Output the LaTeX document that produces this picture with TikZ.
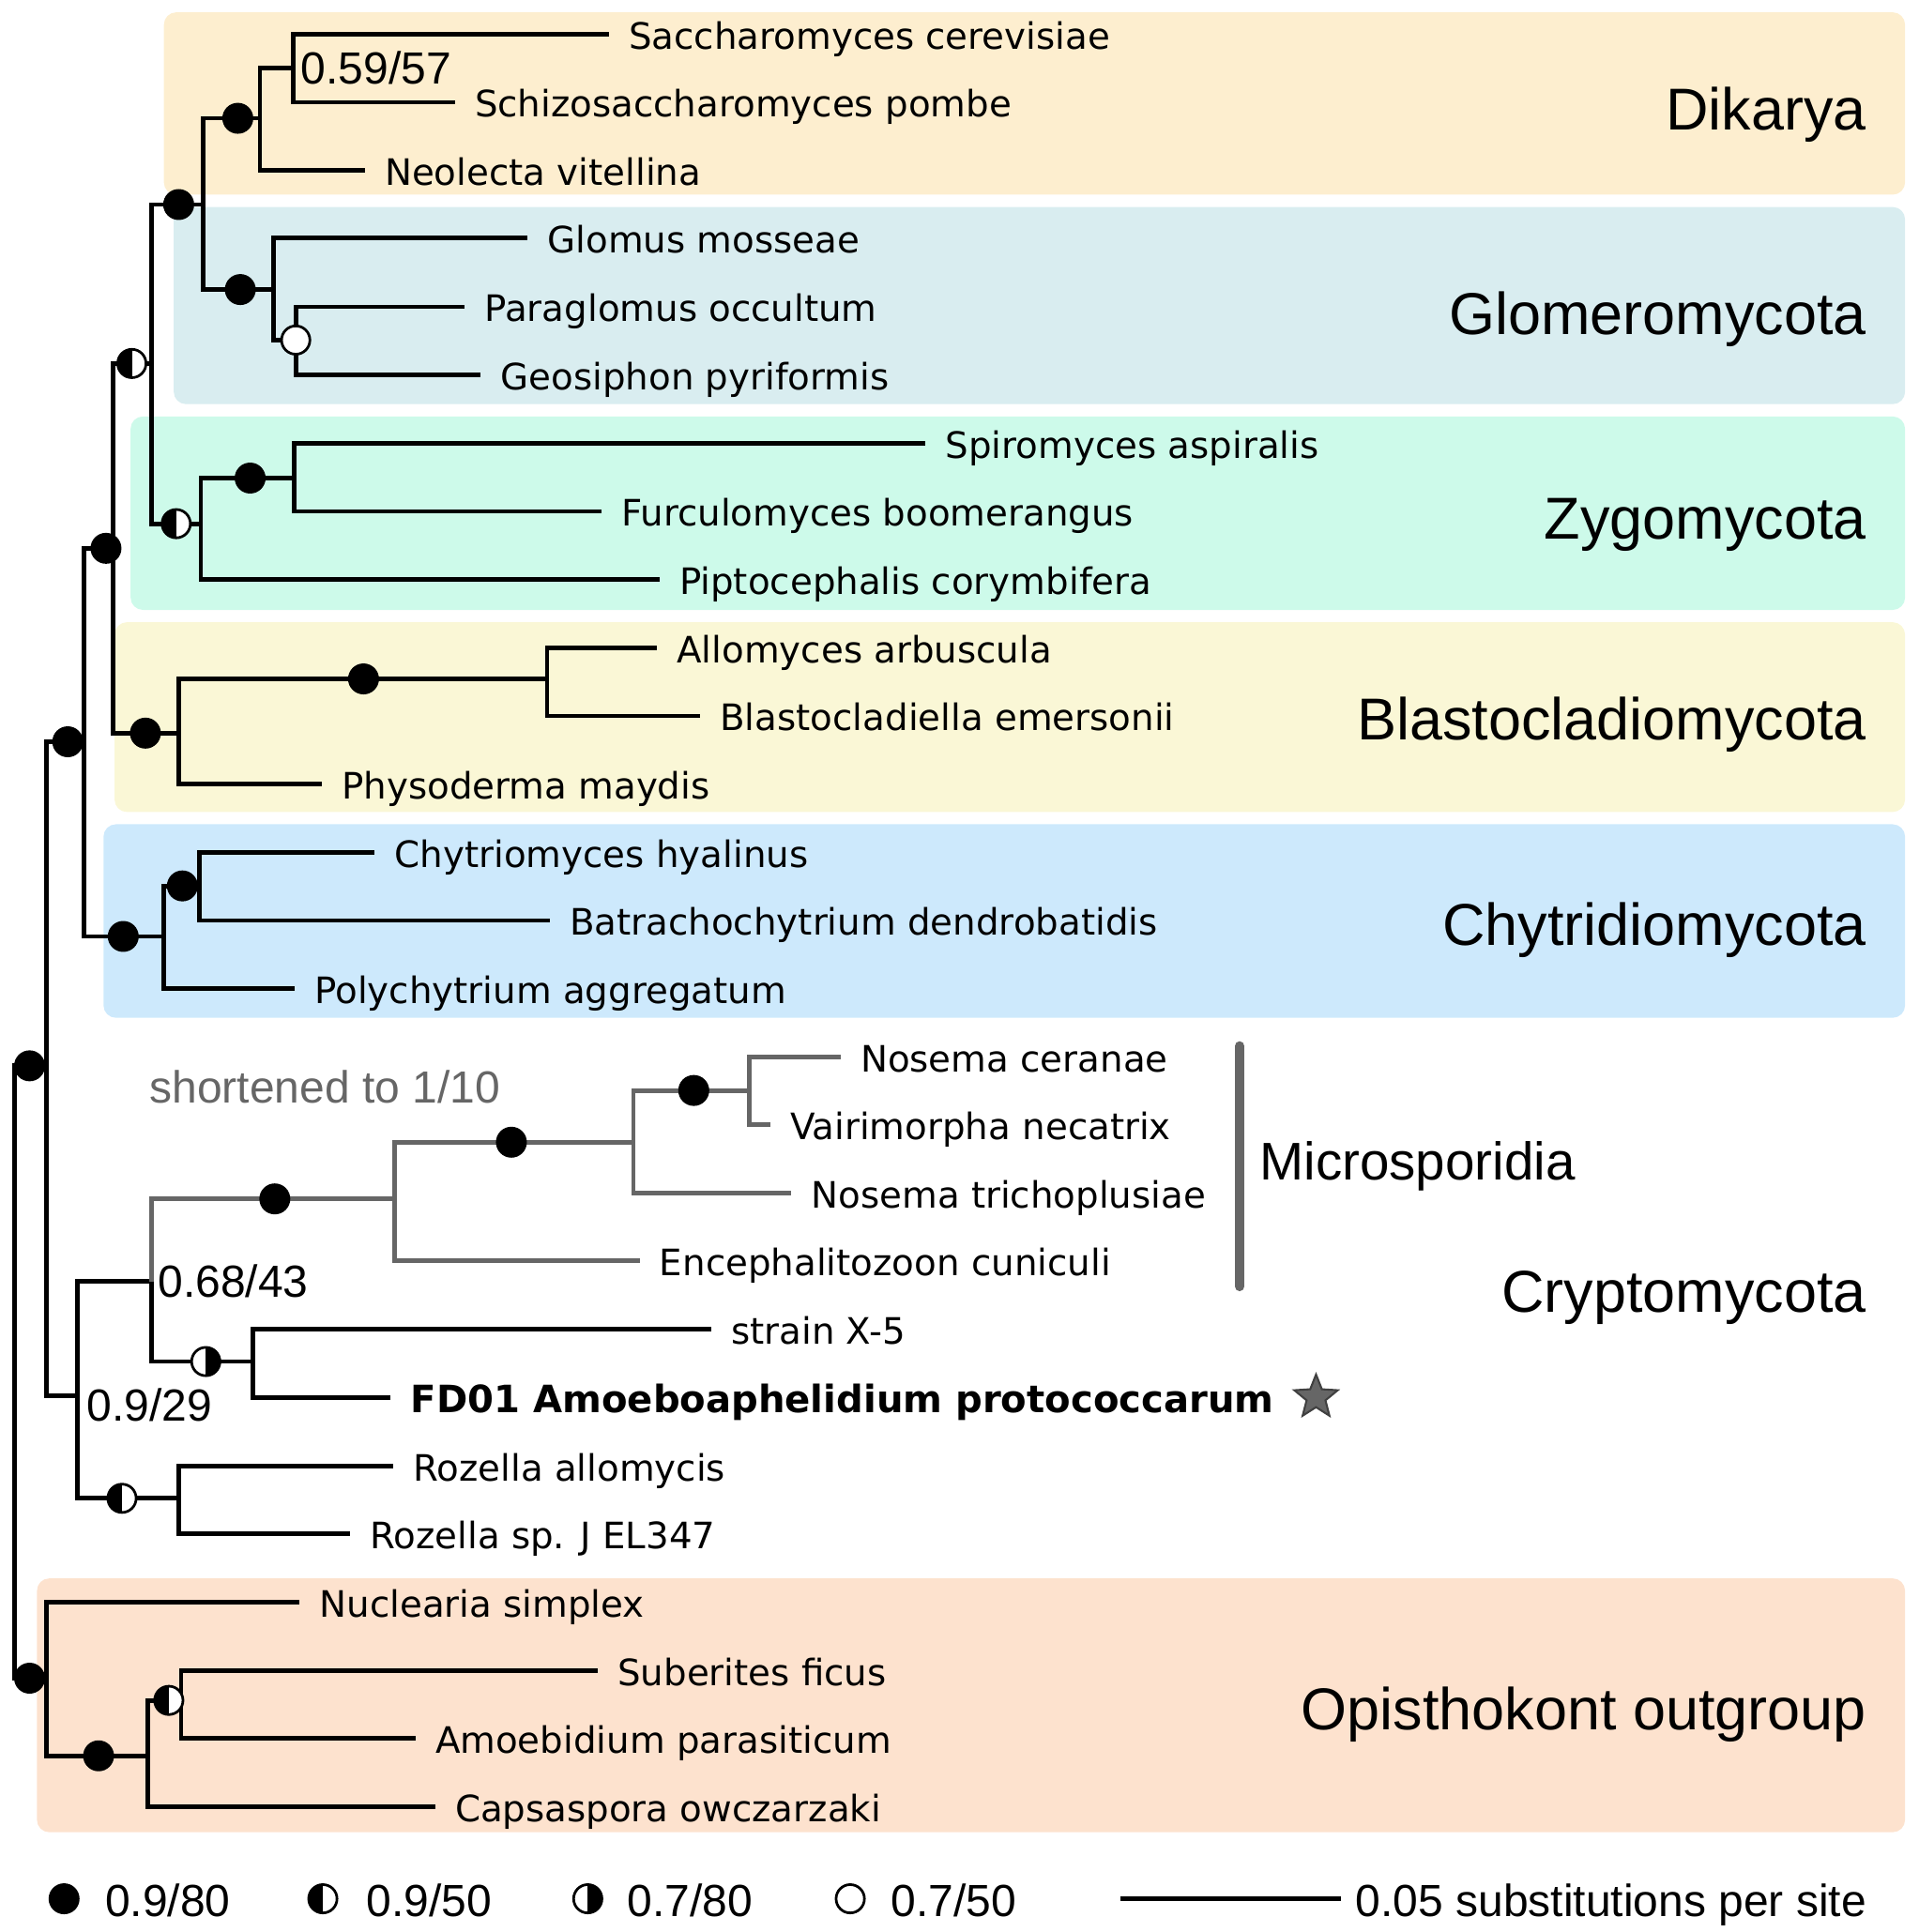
\documentclass[tikz,border=0pt]{standalone}
\usepackage{fontspec}
\setmainfont{Liberation Sans}
\newfontfamily\spfont{DejaVu Sans}
\usepackage{tikz}
\usetikzlibrary{shapes.geometric,positioning}
\definecolor{dikcol}{RGB}{253,238,207}
\definecolor{glocol}{RGB}{217,237,240}
\definecolor{zygcol}{RGB}{205,250,234}
\definecolor{blacol}{RGB}{250,247,214}
\definecolor{chycol}{RGB}{205,233,252}
\definecolor{opicol}{RGB}{253,226,206}
\definecolor{shortgray}{RGB}{102,102,102}

\begin{document}
\begin{tikzpicture}[x=0.02cm, y=-0.02cm,
    br/.style={line width=2.1pt},
    grbr/.style={line width=2.1pt, draw=shortgray},
    tip/.style={anchor=west, inner xsep=0.32cm, inner ysep=0pt, text height=13.8pt, text depth=0pt, font=\spfont\fontsize{16.8}{18}\selectfont},
    supfull/.style={circle, fill=black, draw=black, line width=1.2pt, minimum size=0.46cm, inner sep=0pt},
    supopen/.style={supfull, fill=white},
    suphalfl/.style={supopen, path picture={\fill[black] (path picture bounding box.south west) rectangle (path picture bounding box.north);}},
    suphalfr/.style={supopen, path picture={\fill[black] (path picture bounding box.south) rectangle (path picture bounding box.north east);}},
    num/.style={anchor=west, inner sep=0pt, text height=14.9pt, text depth=0pt, font=\fontsize{20.8}{24}\selectfont},
    clade/.style={anchor=east, inner sep=0pt, text height=19.5pt, text depth=0pt, font=\fontsize{27.3}{32}\selectfont},
    cladebox/.style={rounded corners=0.2cm}
]
\useasboundingbox (0,0) rectangle (1557,1568);

\fill[dikcol, cladebox] (133,10) rectangle (1546,158);
\fill[glocol, cladebox] (141,168) rectangle (1546,328);
\fill[zygcol, cladebox] (106,338) rectangle (1546,495);
\fill[blacol, cladebox] (93,505) rectangle (1546,659);
\fill[chycol, cladebox] (84,669) rectangle (1546,826);
\fill[opicol, cladebox] (30,1281) rectangle (1546,1487);

\coordinate (root) at (12,1113);
\coordinate (fc) at (38,865);
\coordinate (fu) at (68,602);
\coordinate (f2) at (92,445);
\coordinate (f3) at (123,295);
\coordinate (f4) at (165,166);
\coordinate (dik) at (211,96);
\coordinate (sac) at (238,55);
\coordinate (glo) at (222,235);
\coordinate (par) at (240,276);
\coordinate (zyg) at (163,425);
\coordinate (spi) at (239,388);
\coordinate (bla) at (145,595);
\coordinate (all) at (444,551);
\coordinate (chy) at (133,760);
\coordinate (chy2) at (162,719);
\coordinate (cry) at (63,1133);
\coordinate (cr2) at (123,1040);
\coordinate (mic) at (320,973);
\coordinate (mic2) at (514,927);
\coordinate (mic3) at (608,885);
\coordinate (amo) at (205,1105);
\coordinate (roz) at (145,1216);
\coordinate (opi) at (38,1362);
\coordinate (opi2) at (120,1425);
\coordinate (opi3) at (147,1380);

\node[tip] (sce) at (494,28) {Saccharomyces cerevisiae};
\node[tip] (spo) at (369,83) {Schizosaccharomyces pombe};
\node[tip] (nvi) at (296,138) {Neolecta vitellina};
\node[tip] (gmo) at (428,193) {Glomus mosseae};
\node[tip] (poc) at (377,249) {Paraglomus occultum};
\node[tip] (gpy) at (390,304) {Geosiphon pyriformis};
\node[tip] (sas) at (751,360) {Spiromyces aspiralis};
\node[tip] (fbo) at (488,415) {Furculomyces boomerangus};
\node[tip] (pco) at (535,470) {Piptocephalis corymbifera};
\node[tip] (aar) at (533,526) {Allomyces arbuscula};
\node[tip] (bem) at (568,581) {Blastocladiella emersonii};
\node[tip] (pma) at (261,636) {Physoderma maydis};
\node[tip] (chh) at (304,692) {Chytriomyces hyalinus};
\node[tip] (bde) at (446,747) {Batrachochytrium dendrobatidis};
\node[tip] (pag) at (239,802) {Polychytrium aggregatum};
\node[tip] (nce) at (682,858) {Nosema ceranae};
\node[tip] (vne) at (625,913) {Vairimorpha necatrix};
\node[tip] (ntr) at (642,968) {Nosema trichoplusiae};
\node[tip] (ecu) at (519,1023) {Encephalitozoon cuniculi};
\node[tip] (sx5) at (577,1079) {strain X-5};
\node[tip, font=\spfont\bfseries\fontsize{17.4}{19}\selectfont] (fd01) at (317,1134) {FD01 Amoeboaphelidium protococcarum};
\node[tip] (ral) at (319,1190) {Rozella allomycis};
\node[tip] (rsp) at (284,1245) {Rozella sp. J EL347};
\node[tip] (nsi) at (243,1300) {Nuclearia simplex};
\node[tip] (sfi) at (485,1356) {Suberites ficus};
\node[tip] (apa) at (337,1411) {Amoebidium parasiticum};
\node[tip] (cow) at (353,1466) {Capsaspora owczarzaki};

\draw[br] (root) |- (fc);
\draw[br] (root) |- (opi);
\draw[br] (fc) |- (fu);
\draw[br] (fc) |- (cry);
\draw[br] (fu) |- (f2);
\draw[br] (fu) |- (chy);
\draw[br] (f2) |- (f3);
\draw[br] (f2) |- (bla);
\draw[br] (f3) |- (f4);
\draw[br] (f3) |- (zyg);
\draw[br] (f4) |- (dik);
\draw[br] (f4) |- (glo);
\draw[br] (dik) |- (sac);
\draw[br] (dik) |- (nvi.west);
\draw[br] (sac) |- (sce.west);
\draw[br] (sac) |- (spo.west);
\draw[br] (glo) |- (gmo.west);
\draw[br] (glo) |- (par);
\draw[br] (par) |- (poc.west);
\draw[br] (par) |- (gpy.west);
\draw[br] (zyg) |- (spi);
\draw[br] (zyg) |- (pco.west);
\draw[br] (spi) |- (sas.west);
\draw[br] (spi) |- (fbo.west);
\draw[br] (bla) |- (all);
\draw[br] (bla) |- (pma.west);
\draw[br] (all) |- (aar.west);
\draw[br] (all) |- (bem.west);
\draw[br] (chy) |- (chy2);
\draw[br] (chy) |- (pag.west);
\draw[br] (chy2) |- (chh.west);
\draw[br] (chy2) |- (bde.west);
\draw[br] (cry) |- (cr2);
\draw[br] (cry) |- (roz);
\draw[grbr] (cr2) |- (mic);
\draw[br] (cr2) |- (amo);
\draw[grbr] (mic) |- (mic2);
\draw[grbr] (mic) |- (ecu.west);
\draw[grbr] (mic2) |- (mic3);
\draw[grbr] (mic2) |- (ntr.west);
\draw[grbr] (mic3) |- (nce.west);
\draw[grbr] (mic3) |- (vne.west);
\draw[br] (amo) |- (sx5.west);
\draw[br] (amo) |- (fd01.west);
\draw[br] (roz) |- (ral.west);
\draw[br] (roz) |- (rsp.west);
\draw[br] (opi) |- (nsi.west);
\draw[br] (opi) |- (opi2);
\draw[br] (opi2) |- (opi3);
\draw[br] (opi2) |- (cow.west);
\draw[br] (opi3) |- (sfi.west);
\draw[br] (opi3) |- (apa.west);

\node[supfull] (s1) at (24,865) {};
\node[supfull] (s2) at (55,602) {};
\node[supfull] (s3) at (86,445) {};
\node[supfull] (s4) at (100,760) {};
\node[suphalfl] (s5) at (107,295) {};
\node[supfull] (s6) at (118,595) {};
\node[supfull] (s7) at (145,166) {};
\node[suphalfl] (s8) at (143,425) {};
\node[supfull] (s9) at (193,96) {};
\node[supfull] (s10) at (195,235) {};
\node[supopen] (s11) at (par) {};
\node[supfull] (s12) at (203,388) {};
\node[supfull] (s13) at (295,551) {};
\node[supfull] (s14) at (148,719) {};
\node[supfull] (s15) at (223,973) {};
\node[supfull] (s16) at (415,927) {};
\node[supfull] (s17) at (563,885) {};
\node[suphalfr] (s18) at (167,1105) {};
\node[suphalfl] (s19) at (99,1216) {};
\node[supfull] (s20) at (24,1362) {};
\node[supfull] (s21) at (80,1425) {};
\node[suphalfl] (s22) at (137,1380) {};

\node[num, right=0.12cm of sac] (bs1) {0.59/57};
\node[num, right=0.1cm of cr2] (bs2) {0.68/43};
\node[num] (bs3) at (70,1140) {0.9/29};
\node[num, text=shortgray] (shortl) at (121,882) {shortened to 1/10};

\node[star, star points=5, star point ratio=2.3, minimum size=0.74cm, inner sep=0pt, fill=shortgray, draw=black!75, line width=0.9pt] (fdstar) at (1068,1134) {};

\coordinate (mbar1) at (1006,849);
\coordinate (mbar2) at (1006,1044);
\draw[shortgray, line width=4.5pt, line cap=round] (mbar1) -- (mbar2);
\node[clade, anchor=west, text height=17.5pt, font=\fontsize{24.5}{28}\selectfont] (micl) at (1022,942) {Microsporidia};

\node[clade] (dikl) at (1515,88) {Dikarya};
\node[clade] (glol) at (1515,254) {Glomeromycota};
\node[clade] (zygl) at (1515,420) {Zygomycota};
\node[clade] (blal) at (1515,583) {Blastocladiomycota};
\node[clade] (chyl) at (1515,750) {Chytridiomycota};
\node[clade] (cryl) at (1515,1048) {Cryptomycota};
\node[clade] (opil) at (1515,1387) {Opisthokont outgroup};

\node[supfull] (lg1) at (52,1541) {};
\node[num] (lt1) at (85,1542) {0.9/80};
\node[suphalfl] (lg2) at (262,1541) {};
\node[num] (lt2) at (297,1542) {0.9/50};
\node[suphalfr] (lg3) at (477,1541) {};
\node[num] (lt3) at (509,1542) {0.7/80};
\node[supopen] (lg4) at (690,1541) {};
\node[num] (lt4) at (723,1542) {0.7/50};
\coordinate (sb1) at (909,1541);
\coordinate (sb2) at (1088,1541);
\draw[br] (sb1) -- (sb2);
\node[num, anchor=east] (sbl) at (1515,1542) {0.05 substitutions per site};
\end{tikzpicture}
\end{document}
